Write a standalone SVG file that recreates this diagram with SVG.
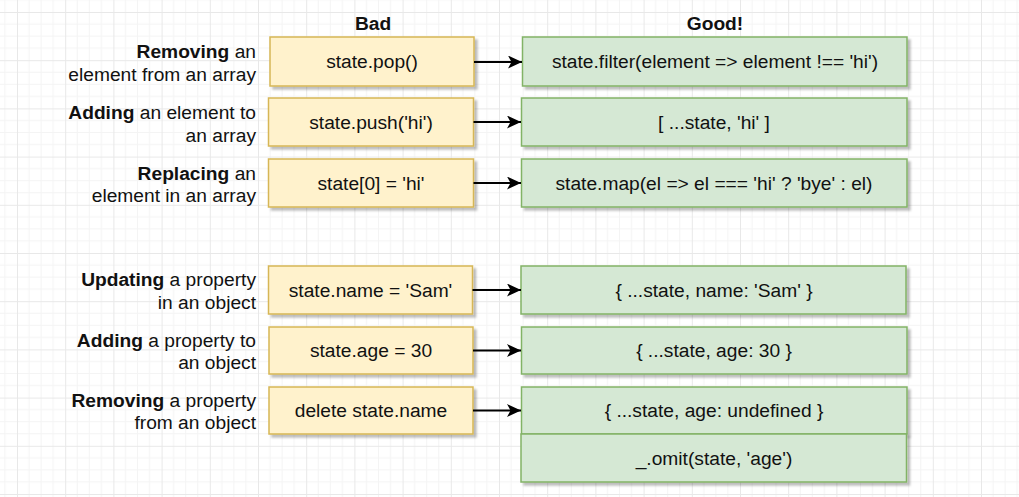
<svg xmlns="http://www.w3.org/2000/svg" width="1019" height="497" viewBox="0 0 1019 497">
<style>
text{font-family:"Liberation Sans",Arial,Helvetica,sans-serif;font-size:19.2px;fill:#111}
.lbl{text-anchor:end}
.mid{text-anchor:middle}
.b{font-weight:bold}
.bad{fill:#fff2cc;stroke:#d6b656;stroke-width:1.5}
.good{fill:#d5e8d4;stroke:#82b366;stroke-width:1.5}
.conn{stroke:#000;stroke-width:2;fill:none}
</style>
<defs>
<pattern id="grid" patternUnits="userSpaceOnUse" x="17" y="12" width="48.2" height="48.2">
<path d="M12.05 0V48.2M24.1 0V48.2M36.15 0V48.2M0 12.05H48.2M0 24.1H48.2M0 36.15H48.2" stroke="#f4f4f4" stroke-width="1" fill="none"/>
<path d="M0.5 0V48.2M0 0.5H48.2" stroke="#e8e8e8" stroke-width="1" fill="none"/>
</pattern>
<filter id="sh" x="-5%" y="-10%" width="115%" height="130%">
<feDropShadow dx="3" dy="3" stdDeviation="1" flood-color="#000" flood-opacity="0.25"/>
</filter>
<marker id="arr" markerUnits="userSpaceOnUse" markerWidth="14" markerHeight="13" refX="14" refY="6.5" orient="auto">
<path d="M0,0 L14,6.5 L0,13 L3.5,6.5 z" fill="#000"/>
</marker>
</defs>
<rect width="1019" height="497" fill="#fff"/>
<rect width="1019" height="497" fill="url(#grid)"/>

<text id="hdr-bad" class="mid b" x="373" y="30">Bad</text>
<text id="hdr-good" class="mid b" x="715" y="30">Good!</text>

<g id="labels">
<text class="lbl" x="256" y="58"><tspan class="b">Removing</tspan> an</text>
<text class="lbl" x="256" y="80.5">element from an array</text>
<text class="lbl" x="256" y="118.5"><tspan class="b">Adding</tspan> an element to</text>
<text class="lbl" x="256" y="141.5">an array</text>
<text class="lbl" x="256" y="179.5"><tspan class="b">Replacing</tspan> an</text>
<text class="lbl" x="256" y="202">element in an array</text>
<text class="lbl" x="256" y="286"><tspan class="b">Updating</tspan> a property</text>
<text class="lbl" x="256" y="308.5">in an object</text>
<text class="lbl" x="256" y="346.5"><tspan class="b">Adding</tspan> a property to</text>
<text class="lbl" x="256" y="369">an object</text>
<text class="lbl" x="256" y="406.5"><tspan class="b">Removing</tspan> a property</text>
<text class="lbl" x="256" y="429">from an object</text>
</g>

<g id="bad1"><rect class="bad" filter="url(#sh)" x="270" y="37" width="204" height="49"/><text class="mid" x="372" y="68">state.pop()</text></g>
<g id="bad2"><rect class="bad" filter="url(#sh)" x="268.5" y="98" width="205" height="48"/><text class="mid" x="371" y="128.5">state.push('hi')</text></g>
<g id="bad3"><rect class="bad" filter="url(#sh)" x="268.5" y="159" width="205" height="48"/><text class="mid" x="371" y="189.5">state[0] = 'hi'</text></g>
<g id="bad4"><rect class="bad" filter="url(#sh)" x="268.5" y="266" width="204" height="48"/><text class="mid" x="370.5" y="296.5">state.name = 'Sam'</text></g>
<g id="bad5"><rect class="bad" filter="url(#sh)" x="269" y="327" width="204" height="47"/><text class="mid" x="371" y="357">state.age = 30</text></g>
<g id="bad6"><rect class="bad" filter="url(#sh)" x="269" y="387" width="204" height="47"/><text class="mid" x="371" y="417">delete state.name</text></g>

<g id="good1"><rect class="good" filter="url(#sh)" x="522.5" y="37" width="384.5" height="49"/><text class="mid" x="715" y="68">state.filter(element =&gt; element !== 'hi')</text></g>
<g id="good2"><rect class="good" filter="url(#sh)" x="521.5" y="98" width="385.5" height="48"/><text class="mid" x="714" y="128.5">[ ...state, 'hi' ]</text></g>
<g id="good3"><rect class="good" filter="url(#sh)" x="521.5" y="159" width="385.5" height="48"/><text class="mid" x="714" y="189.5">state.map(el =&gt; el === 'hi' ? 'bye' : el)</text></g>
<g id="good4"><rect class="good" filter="url(#sh)" x="521" y="266" width="385" height="48"/><text class="mid" x="714" y="296.5">{ ...state, name: 'Sam' }</text></g>
<g id="good5"><rect class="good" filter="url(#sh)" x="521.5" y="327" width="385.5" height="47"/><text class="mid" x="714" y="357">{ ...state, age: 30 }</text></g>
<g id="good6"><rect class="good" filter="url(#sh)" x="521.5" y="387" width="385.5" height="47"/><text class="mid" x="714" y="417">{ ...state, age: undefined }</text></g>
<g id="good7"><rect class="good" filter="url(#sh)" x="521" y="434" width="385.5" height="48"/><text class="mid" x="714" y="465">_.omit(state, 'age')</text></g>

<g id="connectors">
<path class="conn" marker-end="url(#arr)" d="M474 62H522"/>
<path class="conn" marker-end="url(#arr)" d="M473.5 122H521"/>
<path class="conn" marker-end="url(#arr)" d="M473.5 183H521"/>
<path class="conn" marker-end="url(#arr)" d="M472.5 290H521"/>
<path class="conn" marker-end="url(#arr)" d="M473 350.5H521"/>
<path class="conn" marker-end="url(#arr)" d="M473 410.5H521"/>
</g>
</svg>
